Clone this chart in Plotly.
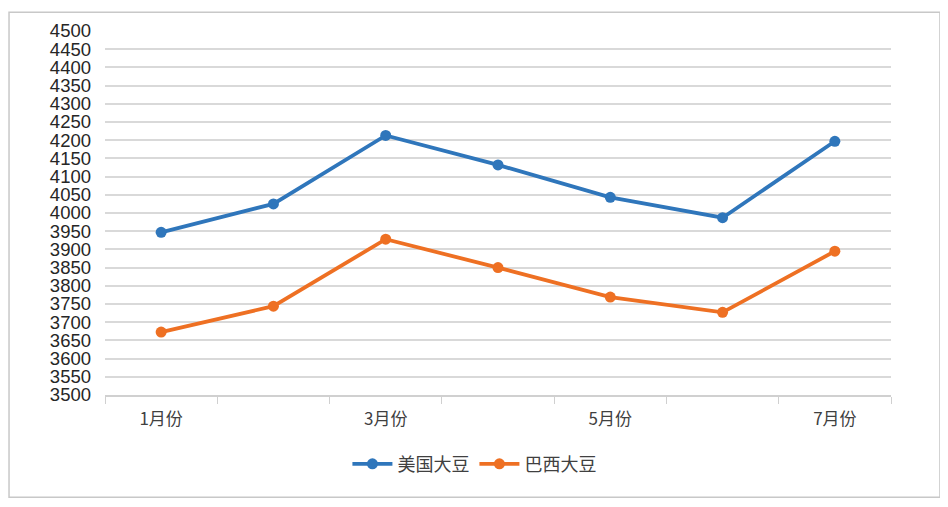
import plotly.graph_objects as go

months = ["1月份", "2月份", "3月份", "4月份", "5月份", "6月份", "7月份"]
month_labels = ["1月份", "", "3月份", "", "5月份", "", "7月份"]
us_soy = [3947, 4025, 4213, 4132, 4043, 3987, 4197]
brazil_soy = [3673, 3744, 3928, 3850, 3769, 3727, 3895]
y_ticks = list(range(3500, 4501, 50))

blue = "#2f76bb"
orange = "#ee7023"

fig = go.Figure()
fig.add_trace(go.Scatter(
    x=months, y=us_soy, name="美国大豆", mode="lines+markers",
    line=dict(color=blue, width=3.8), marker=dict(size=11, color=blue)
))
fig.add_trace(go.Scatter(
    x=months, y=brazil_soy, name="巴西大豆", mode="lines+markers",
    line=dict(color=orange, width=3.8), marker=dict(size=11, color=orange)
))

fig.update_layout(
    width=948, height=507,
    margin=dict(l=97, r=65, t=20, b=120),
    paper_bgcolor="white", plot_bgcolor="white",
    showlegend=True,
    legend=dict(
        orientation="h", x=0.47, xanchor="center", y=-0.19, yanchor="middle",
        font=dict(family="Noto Sans CJK SC", size=18, color="#404040"),
        itemwidth=40, tracegroupgap=0
    ),
    xaxis=dict(
        type="category", range=[-0.5, 6.5], tickvals=months, ticktext=month_labels,
        tickson="boundaries", ticks="outside", ticklen=7, tickcolor="#d0d0d0",
        showline=True, linecolor="#d0d0d0", linewidth=1.5, showgrid=False,
        ticklabelstandoff=8,
        tickfont=dict(family="Noto Sans CJK SC", size=17, color="#404040"),
    ),
    yaxis=dict(
        range=[3500, 4500], tickvals=y_ticks, showgrid=True,
        gridcolor="#d9d9d9", gridwidth=1.5, zeroline=False, showline=False,
        ticklabelstandoff=13,
        tickfont=dict(family="Liberation Sans", size=18.5, color="#262626"),
    ),
    shapes=[dict(
        type="rect", xref="paper", yref="paper",
        x0=-0.1221, x1=1.0623, y0=-0.2807, y1=1.0518,
        line=dict(color="#c8c8c8", width=1.5), layer="below"
    )],
)

fig.write_html("out.html")
